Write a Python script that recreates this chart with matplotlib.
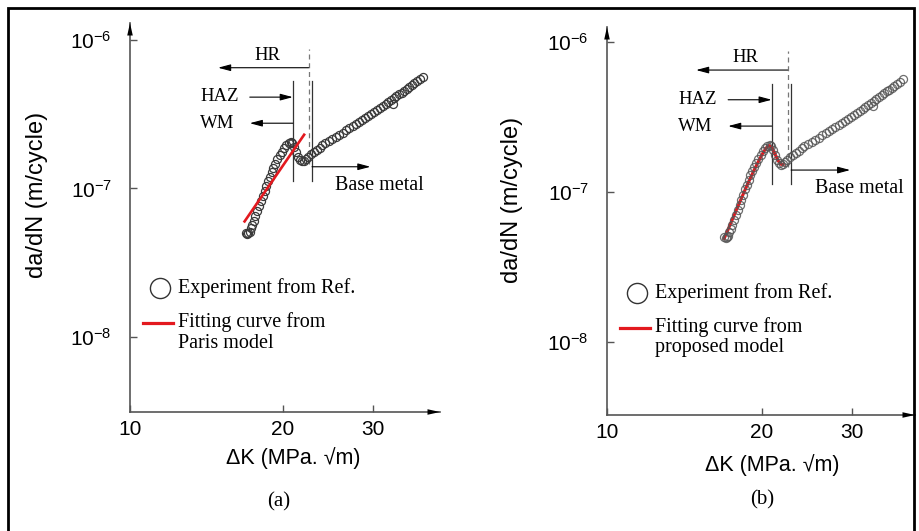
import matplotlib
matplotlib.use("Agg")
import matplotlib.pyplot as plt
from matplotlib.patches import Rectangle

plt.rcParams["font.family"] = ["Liberation Sans", "DejaVu Sans"]
plt.rcParams["mathtext.fontset"] = "custom"
plt.rcParams["mathtext.rm"] = "Liberation Sans"
plt.rcParams["mathtext.it"] = "Liberation Sans:italic"

# experimental crack growth data (same test in both panels)
exp_dk = [16.9, 17.0, 17.1, 17.2, 17.3, 17.4, 17.5, 17.65, 17.8, 17.95,
          18.1, 18.25, 18.4, 18.55, 18.7, 18.85, 19.0, 19.15, 19.3, 19.5,
          19.7, 19.9, 20.1, 20.3, 20.5, 20.7, 20.85, 21.0, 21.2, 21.4,
          21.6, 21.8, 22.0, 22.2, 22.4, 22.7, 23.0, 23.3, 23.6, 23.9,
          24.2, 24.6, 25.0, 25.4, 25.8, 26.2, 26.6, 27.0, 27.4, 27.8,
          28.2, 28.6, 29.0, 29.4, 29.8, 30.2, 30.6, 31.0, 31.4, 31.8,
          32.2, 32.6, 32.9, 33.0, 33.4, 33.8, 34.2, 34.6, 35.0, 35.4,
          35.8, 36.2, 36.7, 37.2, 37.7]
exp_rate = [5.0e-8, 4.9e-8, 5.0e-8, 5.1e-8, 5.4e-8, 5.7e-8, 6.0e-8, 6.5e-8, 7.0e-8, 7.6e-8,
            8.2e-8, 8.9e-8, 9.6e-8, 1.04e-7, 1.12e-7, 1.20e-7, 1.29e-7, 1.38e-7, 1.47e-7, 1.57e-7,
            1.67e-7, 1.77e-7, 1.87e-7, 1.96e-7, 2.03e-7, 2.06e-7, 2.02e-7, 1.90e-7, 1.76e-7, 1.63e-7,
            1.55e-7, 1.52e-7, 1.54e-7, 1.59e-7, 1.64e-7, 1.70e-7, 1.76e-7, 1.82e-7, 1.88e-7, 1.95e-7,
            2.02e-7, 2.08e-7, 2.15e-7, 2.22e-7, 2.30e-7, 2.38e-7, 2.46e-7, 2.54e-7, 2.63e-7, 2.72e-7,
            2.81e-7, 2.90e-7, 2.98e-7, 3.07e-7, 3.16e-7, 3.26e-7, 3.36e-7, 3.46e-7, 3.57e-7, 3.68e-7,
            3.80e-7, 3.92e-7, 3.72e-7, 4.05e-7, 4.18e-7, 4.30e-7, 4.42e-7, 4.55e-7, 4.68e-7, 4.82e-7,
            4.96e-7, 5.10e-7, 5.28e-7, 5.45e-7, 5.65e-7]

# Paris model fit (straight line in log-log)
paris_dk = [16.8, 22.0]
paris_rate = [6.0e-8, 2.3e-7]

# proposed model fit
model_dk = [16.9, 17.3, 17.7, 18.1, 18.5, 18.9, 19.3, 19.7, 20.1, 20.4,
            20.65, 20.9, 21.2, 21.5, 21.8, 22.0]
model_rate = [4.9e-8, 5.9e-8, 7.1e-8, 8.5e-8, 1.01e-7, 1.19e-7, 1.39e-7, 1.60e-7, 1.82e-7, 1.97e-7,
              2.04e-7, 1.99e-7, 1.80e-7, 1.62e-7, 1.53e-7, 1.52e-7]

# zone boundaries (MPa.sqrt(m))
haz_dk = 20.9
hr_dk = 22.45
base_dk = 22.8

y_ticks = [1e-8, 1e-7, 1e-6]
y_ticklabels = [r"$\mathregular{10^{-8}}$", r"$\mathregular{10^{-7}}$", r"$\mathregular{10^{-6}}$"]
x_ticks = [10, 20, 30]
x_ticklabels = ["10", "20", "30"]

SERIF = ["Liberation Serif", "DejaVu Serif"]
AX_COLOR = "#555555"
RED = "#e3191f"


def arrow(ax, x0, x1, y):
    ax.annotate("", xy=(x1, y), xytext=(x0, y),
                arrowprops=dict(arrowstyle="-|>,head_length=0.75,head_width=0.2",
                                color="black", lw=0.8, shrinkA=0, shrinkB=0))


def setup_panel(ax, xmax, ylim, ylab_xy, xlab_xy):
    ax.set_xscale("log")
    ax.set_yscale("log")
    ax.set_xlim(10, xmax)
    ax.set_ylim(*ylim)
    for s in ["top", "right"]:
        ax.spines[s].set_visible(False)
    for s in ["left", "bottom"]:
        ax.spines[s].set_color(AX_COLOR)
        ax.spines[s].set_linewidth(1.2)
    ax.set_xticks(x_ticks)
    ax.set_xticklabels(x_ticklabels)
    ax.set_yticks(y_ticks)
    ax.set_yticklabels(y_ticklabels)
    ax.minorticks_off()
    ax.tick_params(direction="in", length=5, width=1, color=AX_COLOR, labelsize=15)
    ax.tick_params(axis="y", pad=13)
    ax.tick_params(axis="x", pad=6)
    # axis arrows
    ax.annotate("", xy=(1, 0), xytext=(0.95, 0), xycoords="axes fraction",
                arrowprops=dict(arrowstyle="-|>,head_length=0.9,head_width=0.2",
                                color="black", lw=0, shrinkA=0, shrinkB=0))
    ax.annotate("", xy=(0, 1), xytext=(0, 0.95), xycoords="axes fraction",
                arrowprops=dict(arrowstyle="-|>,head_length=0.9,head_width=0.2",
                                color="black", lw=0, shrinkA=0, shrinkB=0))
    ax.set_ylabel("da/dN (m/cycle)", fontsize=17)
    ax.yaxis.set_label_coords(*ylab_xy)
    ax.yaxis.label.set_verticalalignment("center")
    ax.set_xlabel("ΔK (MPa. √m)", fontsize=15.5)
    ax.xaxis.set_label_coords(*xlab_xy)
    ax.xaxis.label.set_verticalalignment("center")

    # zone markers
    ax.plot([haz_dk, haz_dk], [1.13e-7, 5.25e-7], color="#333333", lw=0.9)
    ax.plot([base_dk, base_dk], [1.13e-7, 5.25e-7], color="#333333", lw=0.9)
    ax.plot([hr_dk, hr_dk], [1.47e-7, 8.7e-7], color="#777777", lw=0.9, ls=(0, (4, 3)))
    arrow(ax, hr_dk, 14.9, 6.5e-7)
    ax.text(18.6, 7.9e-7, "HR", family=SERIF, fontsize=13.5, ha="center", va="center")
    arrow(ax, 17.2, haz_dk, 4.12e-7)
    ax.text(16.35, 4.15e-7, "HAZ", family=SERIF, fontsize=13.5, ha="right", va="center")
    arrow(ax, haz_dk, 17.2, 2.75e-7)
    ax.text(16.05, 2.75e-7, "WM", family=SERIF, fontsize=13.5, ha="right", va="center")
    arrow(ax, base_dk, 29.7, 1.4e-7)
    ax.text(31.0, 1.05e-7, "Base metal", family=SERIF, fontsize=14.5, ha="center", va="center")


def legend(ax, circle_y, line_y, second_y, second_text):
    tr = ax.transAxes
    ax.plot([0.097], [circle_y], "o", ms=14.5, mfc="none", mec="#333333", mew=1.0,
            transform=tr, clip_on=False)
    ax.text(0.155, circle_y, "Experiment from Ref.", family=SERIF, fontsize=14.5,
            ha="left", va="center", transform=tr)
    ax.plot([0.041, 0.139], [line_y, line_y], color=RED, lw=2.3, transform=tr, clip_on=False)
    ax.text(0.155, line_y + 0.003, "Fitting curve from", family=SERIF, fontsize=14.5,
            ha="left", va="center", transform=tr)
    ax.text(0.155, second_y, second_text, family=SERIF, fontsize=14.5,
            ha="left", va="center", transform=tr)


fig = plt.figure(figsize=(9.2, 5.31), dpi=100)
fig.add_artist(Rectangle((8 / 920, -0.05), 906 / 920, 1 - 8 / 531 + 0.05,
                         transform=fig.transFigure, fill=False, ec="black", lw=2))

# panel (a)
ax1 = fig.add_axes([130 / 920, 119 / 531, 310 / 920, 389 / 531])
setup_panel(ax1, 40.7, (10 ** -8.505, 10 ** -5.886), (-0.30, 0.558), (0.526, -0.118))
ax1.plot(exp_dk, exp_rate, "o", ms=5.8, mfc="none", mec="#3a3a3a", mew=0.9, zorder=2)
ax1.plot(paris_dk, paris_rate, color=RED, lw=1.9, zorder=3)
legend(ax1, 0.318, 0.228, 0.177, "Paris model")
fig.text(279 / 920, 1 - 502 / 531, "(a)", family=SERIF, fontsize=15, ha="center", va="center")

# panel (b)
ax2 = fig.add_axes([607 / 920, 116 / 531, 308 / 920, 388 / 531])
setup_panel(ax2, 39.7, (10 ** -8.487, 10 ** -5.9), (-0.308, 0.554), (0.536, -0.129))
ax2.plot(model_dk, model_rate, color=RED, lw=2.2, zorder=2)
ax2.plot(exp_dk, exp_rate, "o", ms=5.8, mfc="none", mec="#555555", mew=0.9, zorder=3, alpha=0.85)
legend(ax2, 0.314, 0.224, 0.173, "proposed model")
fig.text(762 / 920, 1 - 500 / 531, "(b)", family=SERIF, fontsize=15, ha="center", va="center")

fig.savefig("out.png", dpi=100)
